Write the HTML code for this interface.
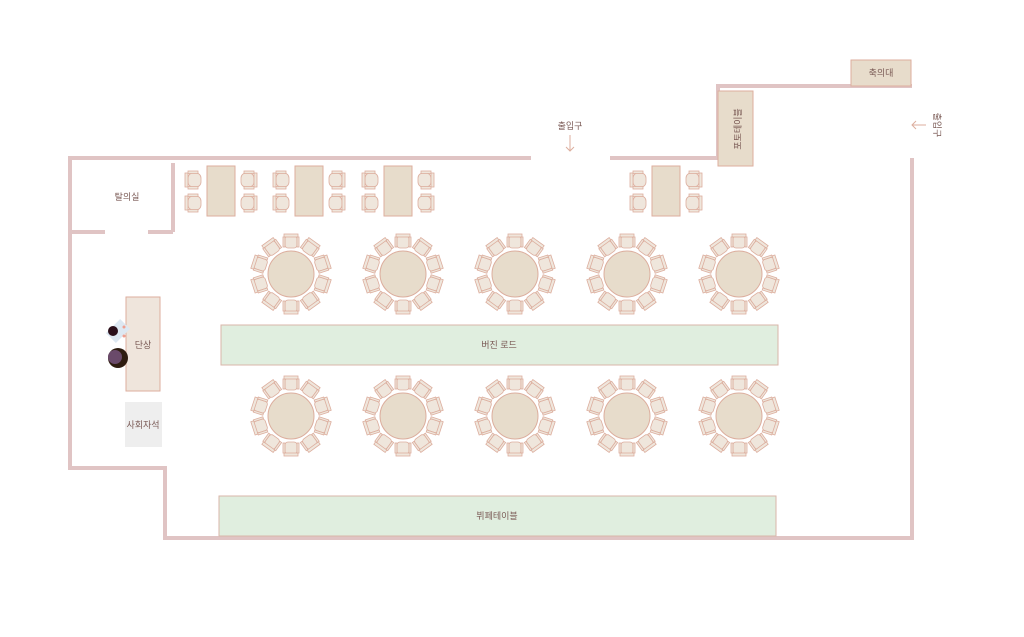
<!DOCTYPE html>
<html><head><meta charset="utf-8"><style>
body{margin:0;background:#fff}
svg{display:block}
text{font-family:"Liberation Sans","Noto Sans CJK KR",sans-serif;fill:#7a5a55;font-size:9px}
</style></head><body>
<svg width="1024" height="637" viewBox="0 0 1024 637">
<defs>
<g id="ch">
<rect x="-6" y="-38" width="12" height="12" rx="3" fill="#efe6dc" stroke="#dcae9e" stroke-width="0.8"/>
<rect x="-7" y="-40" width="14" height="3" fill="#efe6dc" stroke="#dcae9e" stroke-width="0.8"/>
<rect x="-8" y="-37" width="2" height="10" fill="#efe6dc" stroke="#dcae9e" stroke-width="0.8"/>
<rect x="6" y="-37" width="2" height="10" fill="#efe6dc" stroke="#dcae9e" stroke-width="0.8"/>
</g>
<g id="rt">
<circle r="23" fill="#e7dccb" stroke="#dcae9e" stroke-width="1"/>
<use href="#ch" transform="rotate(0)"/><use href="#ch" transform="rotate(36)"/><use href="#ch" transform="rotate(72)"/><use href="#ch" transform="rotate(108)"/><use href="#ch" transform="rotate(144)"/><use href="#ch" transform="rotate(180)"/><use href="#ch" transform="rotate(216)"/><use href="#ch" transform="rotate(252)"/><use href="#ch" transform="rotate(288)"/><use href="#ch" transform="rotate(324)"/>
</g>
<g id="sc">
<rect x="-6" y="-7" width="13" height="14" rx="5" fill="#efe6dc" stroke="#dcae9e" stroke-width="0.8"/>
<rect x="-9" y="-7" width="3" height="14" fill="#efe6dc" stroke="#dcae9e" stroke-width="0.8"/>
<rect x="-6" y="-9" width="10" height="2.5" fill="#efe6dc" stroke="#dcae9e" stroke-width="0.8"/>
<rect x="-6" y="6.5" width="10" height="2.5" fill="#efe6dc" stroke="#dcae9e" stroke-width="0.8"/>
</g>
<g id="rect">
<rect x="0" y="0" width="28" height="50" fill="#e7dccb" stroke="#dcae9e"/>
<use href="#sc" transform="translate(-13,14)"/><use href="#sc" transform="translate(-13,37)"/>
<use href="#sc" transform="translate(41,14) scale(-1,1)"/><use href="#sc" transform="translate(41,37) scale(-1,1)"/>
</g>
</defs>
<g stroke="#e0c4c4" stroke-width="4" fill="none">
<polyline points="531,158 70,158 70,468 165,468 165,538 912,538 912,158"/>
<polyline points="610,158 718,158 718,86 912,86"/>
<line x1="173" y1="163" x2="173" y2="232"/>
<polyline points="70,232 105,232"/>
<polyline points="148,232 173,232"/>
</g>
<text x="127" y="200" text-anchor="middle">탈의실</text>
<use href="#rect" transform="translate(207,166)"/>
<use href="#rect" transform="translate(295,166)"/>
<use href="#rect" transform="translate(384,166)"/>
<use href="#rect" transform="translate(652,166)"/>
<use href="#rt" transform="translate(291,274)"/>
<use href="#rt" transform="translate(403,274)"/>
<use href="#rt" transform="translate(515,274)"/>
<use href="#rt" transform="translate(627,274)"/>
<use href="#rt" transform="translate(739,274)"/>
<use href="#rt" transform="translate(291,416)"/>
<use href="#rt" transform="translate(403,416)"/>
<use href="#rt" transform="translate(515,416)"/>
<use href="#rt" transform="translate(627,416)"/>
<use href="#rt" transform="translate(739,416)"/>
<rect x="221" y="325" width="557" height="40" fill="#e0eedf" stroke="#d9b6a8"/>
<text x="499" y="348" text-anchor="middle">버진 로드</text>
<rect x="219" y="496" width="557" height="40" fill="#e0eedf" stroke="#d9b6a8"/>
<text x="497" y="519" text-anchor="middle">뷔페테이블</text>
<rect x="126" y="297" width="34" height="94" fill="#efe5dc" stroke="#dcae9e"/>
<text x="143" y="348" text-anchor="middle">단상</text>
<rect x="125" y="402" width="37" height="45" fill="#eeeeee"/>
<text x="143" y="428" text-anchor="middle">사회자석</text>
<rect x="111" y="321" width="14" height="20" fill="#dde8f2" transform="rotate(45 118 331)"/>
<circle cx="124" cy="327" r="1.5" fill="#f0a090"/><circle cx="124" cy="336" r="1.5" fill="#f0a090"/>
<circle cx="113" cy="331" r="5" fill="#2a0f1a"/>
<circle cx="118" cy="358" r="10" fill="#2e1c10"/>
<circle cx="115" cy="357" r="7" fill="#6a4a6a"/>
<rect x="718" y="91" width="35" height="75" fill="#e7dccb" stroke="#dcae9e"/>
<text transform="translate(738,129) rotate(-90)" text-anchor="middle" dy="3">포토테이블</text>
<rect x="851" y="60" width="60" height="26" fill="#e7dccb" stroke="#dcae9e"/>
<text x="881" y="76" text-anchor="middle">축의대</text>
<text x="570" y="129" text-anchor="middle">출입구</text>
<g stroke="#dcae9e" stroke-width="1" fill="none">
<line x1="570" y1="135" x2="570" y2="151"/><polyline points="566,147 570,151 574,147"/>
<line x1="912" y1="125" x2="926" y2="125"/><polyline points="916,121 912,125 916,129"/>
</g>
<text transform="translate(934,125) rotate(90)" text-anchor="middle">출입구</text>
</svg>
</body></html>
